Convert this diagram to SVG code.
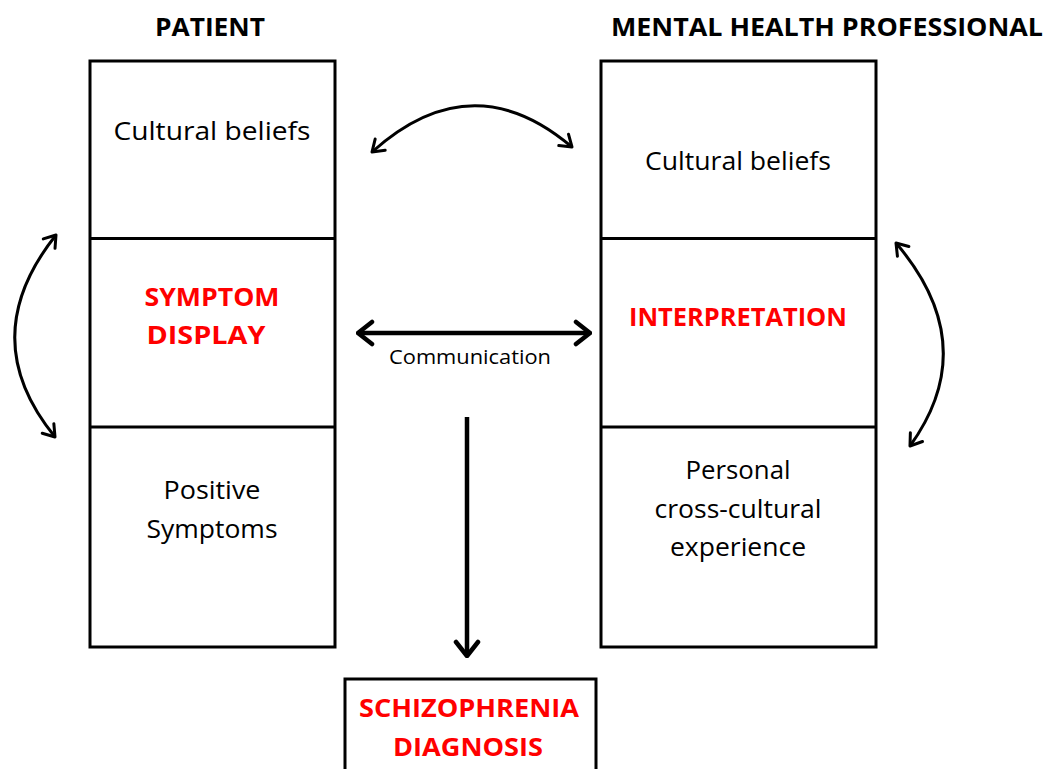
<svg xmlns="http://www.w3.org/2000/svg" width="1051" height="769" viewBox="0 0 1051 769">
<defs>
<style>
.box{fill:#fff;stroke:#000;stroke-width:3}
.div{stroke:#000;stroke-width:3}
.t{font-family:"Open Sans","Liberation Sans",sans-serif;font-size:25.5px;fill:#000;text-anchor:middle}
.h{font-family:"Open Sans","Liberation Sans",sans-serif;font-size:25px;font-weight:bold;fill:#000;text-anchor:middle}
.r{font-family:"Open Sans","Liberation Sans",sans-serif;font-size:25px;font-weight:bold;fill:#f00;text-anchor:middle}
.c{font-family:"Open Sans","Liberation Sans",sans-serif;font-size:20px;fill:#000;text-anchor:middle}
.arc{fill:none;stroke:#000;stroke-width:3;marker-start:url(#ah);marker-end:url(#ah)}
.thick{fill:none;stroke:#000;stroke-width:4.5}
</style>
<marker id="ah" viewBox="-14 -10 16 20" markerWidth="16" markerHeight="20" refX="0" refY="0" orient="auto-start-reverse" markerUnits="userSpaceOnUse">
<path d="M-11,-7.5 L0,0 L-11,7.5" fill="none" stroke="#000" stroke-width="3" stroke-linecap="round" stroke-linejoin="round"/>
</marker>
<marker id="ah2" viewBox="-18 -14 20 28" markerWidth="20" markerHeight="28" refX="0" refY="0" orient="auto-start-reverse" markerUnits="userSpaceOnUse">
<path d="M-14,-11 L0,0 L-14,11" fill="none" stroke="#000" stroke-width="4.5" stroke-linecap="round" stroke-linejoin="round"/>
</marker>
</defs>
<rect width="1051" height="769" fill="#fff"/>
<text class="h" x="210" y="36" textLength="110" lengthAdjust="spacingAndGlyphs">PATIENT</text>
<text class="h" x="827" y="36" textLength="432" lengthAdjust="spacingAndGlyphs">MENTAL HEALTH PROFESSIONAL</text>

<g id="patient">
<rect class="box" x="90" y="61" width="245" height="586"/>
<line class="div" x1="90" y1="238.5" x2="335" y2="238.5"/>
<line class="div" x1="90" y1="427" x2="335" y2="427"/>
</g>
<g id="patient-beliefs"><text class="t" x="212" y="140" textLength="197" lengthAdjust="spacingAndGlyphs">Cultural beliefs</text></g>
<g id="symptom-display"><text class="r" x="212" y="306" textLength="135" lengthAdjust="spacingAndGlyphs">SYMPTOM</text><text class="r" x="206" y="344" textLength="119" lengthAdjust="spacingAndGlyphs">DISPLAY</text></g>
<g id="positive-symptoms"><text class="t" x="212" y="499" textLength="97" lengthAdjust="spacingAndGlyphs">Positive</text><text class="t" x="212" y="538" textLength="131" lengthAdjust="spacingAndGlyphs">Symptoms</text></g>

<g id="professional">
<rect class="box" x="601" y="61" width="275" height="586"/>
<line class="div" x1="601" y1="238.5" x2="876" y2="238.5"/>
<line class="div" x1="601" y1="427" x2="876" y2="427"/>
</g>
<g id="prof-beliefs"><text class="t" x="738" y="170" textLength="186" lengthAdjust="spacingAndGlyphs">Cultural beliefs</text></g>
<g id="interpretation"><text class="r" x="738" y="326" textLength="218" lengthAdjust="spacingAndGlyphs">INTERPRETATION</text></g>
<g id="experience"><text class="t" x="738" y="479" textLength="105" lengthAdjust="spacingAndGlyphs">Personal</text><text class="t" x="738" y="518" textLength="167" lengthAdjust="spacingAndGlyphs">cross-cultural</text><text class="t" x="738" y="556" textLength="136" lengthAdjust="spacingAndGlyphs">experience</text></g>

<g id="diagnosis">
<rect class="box" x="345" y="679" width="251" height="100"/>
<text class="r" x="469" y="717" textLength="220" lengthAdjust="spacingAndGlyphs">SCHIZOPHRENIA</text>
<text class="r" x="468" y="756" textLength="150" lengthAdjust="spacingAndGlyphs">DIAGNOSIS</text>
</g>

<g id="connectors">
<path class="arc" d="M372,152 Q472,62 572,147"/>
<path class="arc" d="M56,235 Q-26,338 55,437"/>
<path class="arc" d="M896,243 Q983,345 910,446"/>
<path class="thick" d="M358,333 L590,333" marker-start="url(#ah2)" marker-end="url(#ah2)"/>
<path class="thick" d="M467,417 L467,656" marker-end="url(#ah2)"/>
<text class="c" x="470" y="364" textLength="162" lengthAdjust="spacingAndGlyphs">Communication</text>
</g>
</svg>
